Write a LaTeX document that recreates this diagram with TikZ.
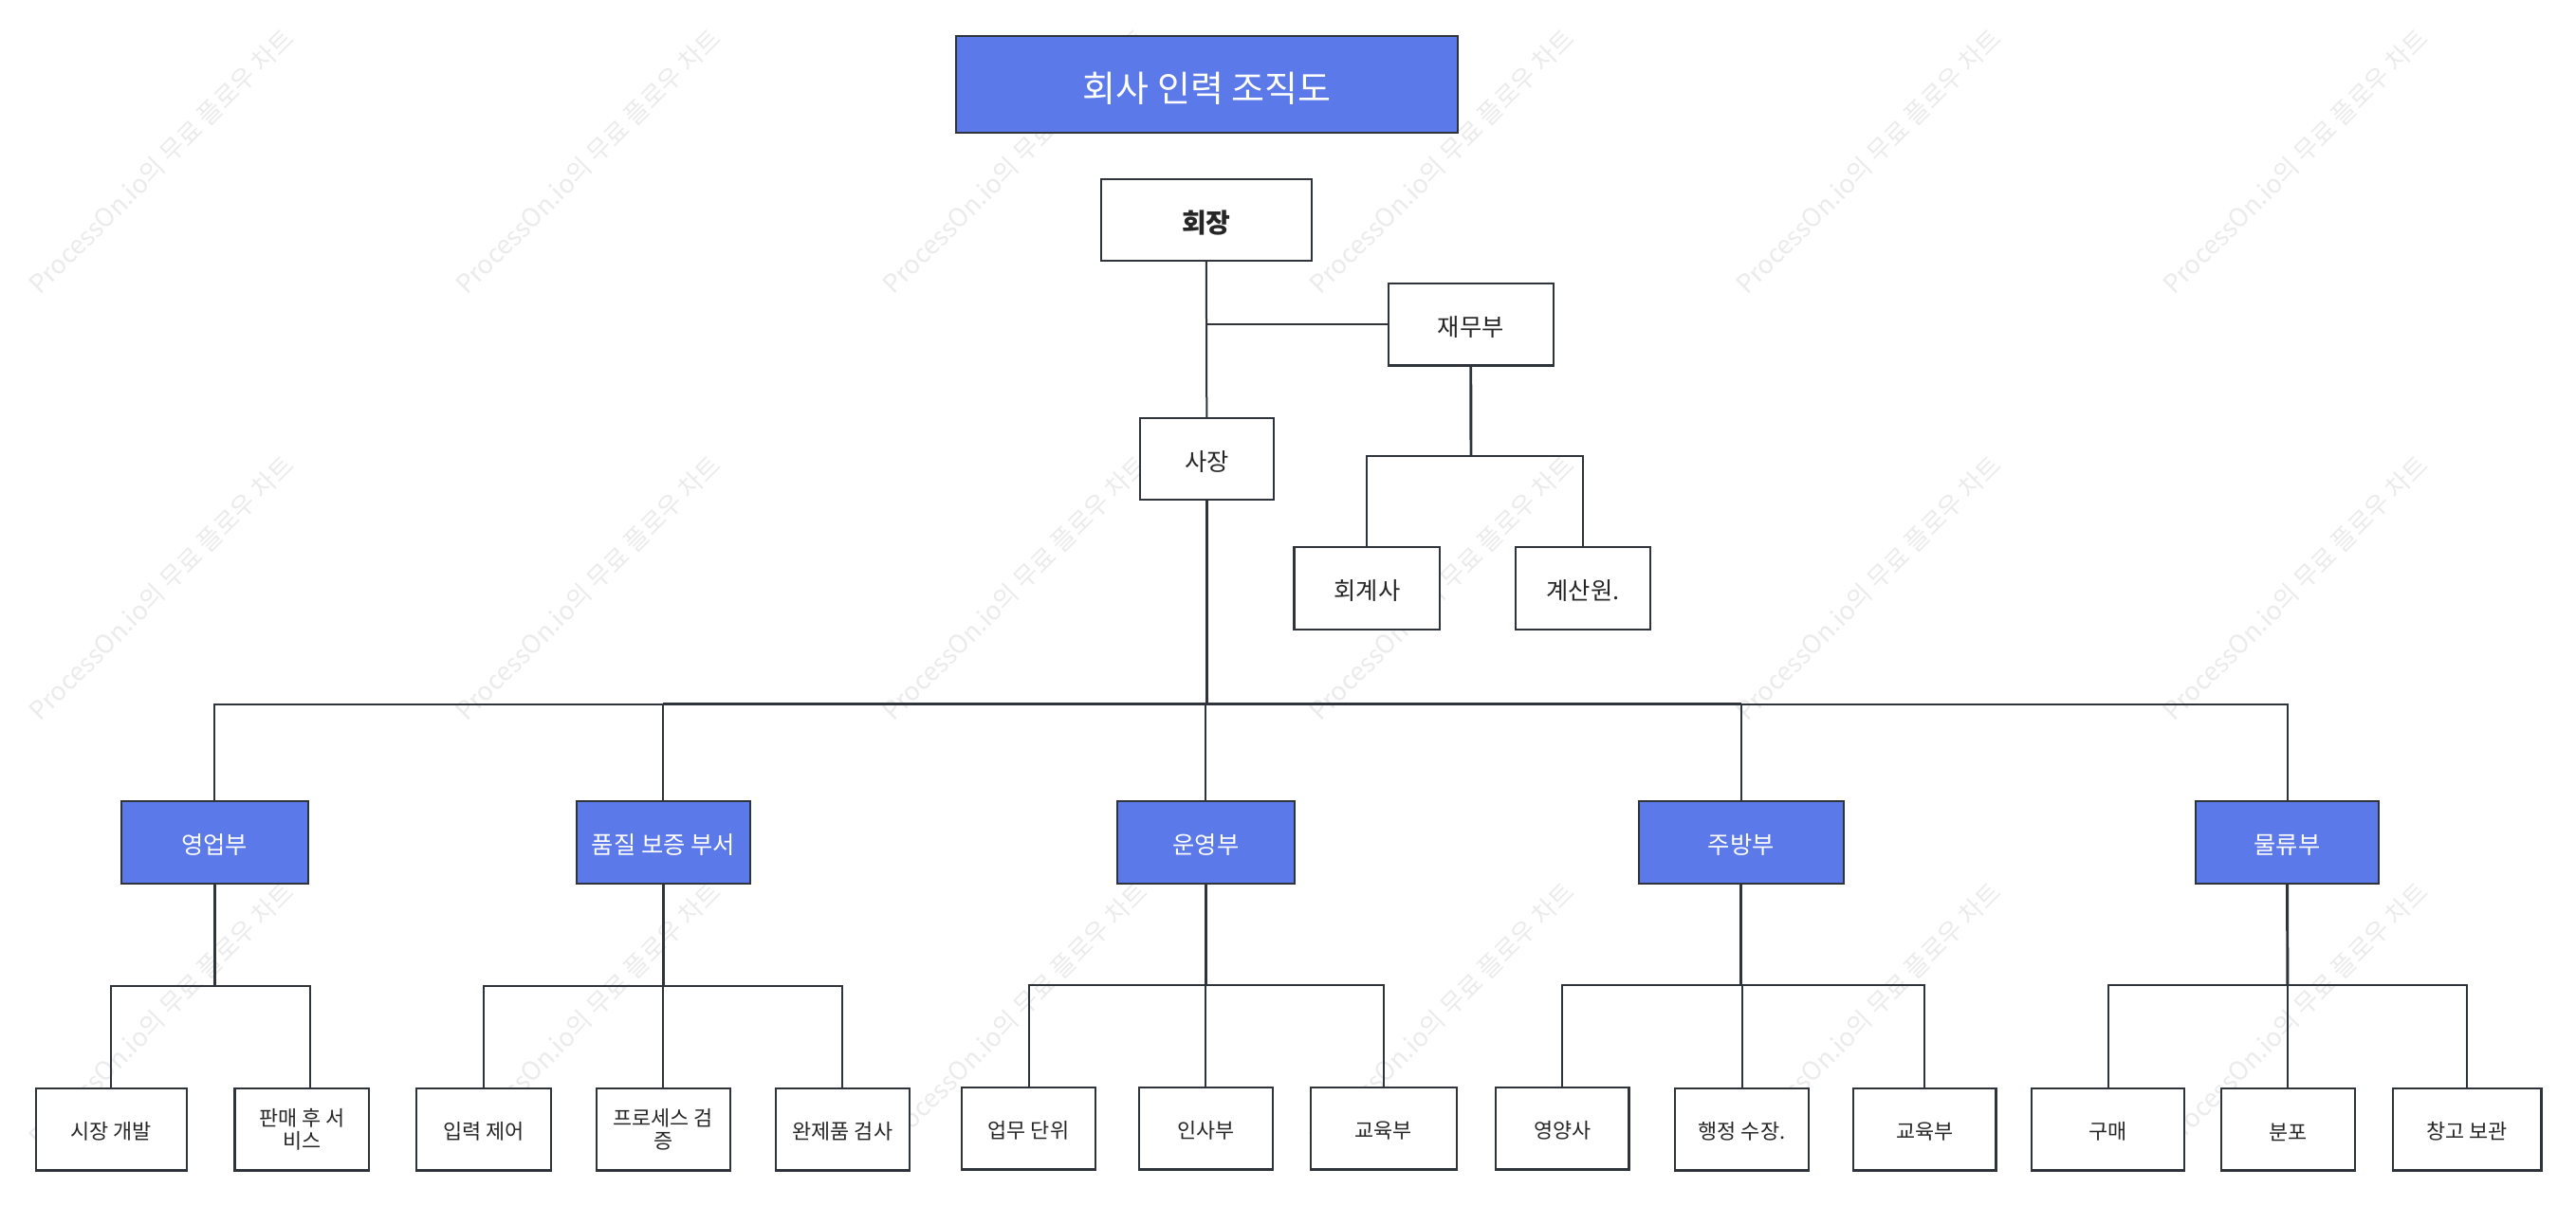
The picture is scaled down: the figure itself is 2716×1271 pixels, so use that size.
\documentclass[tikz,border=0pt]{standalone}
\usepackage{fontspec}
\usepackage{xcolor}
\setmainfont{Noto Sans CJK KR}
\definecolor{deptblue}{HTML}{5B79E9}
\definecolor{edge}{HTML}{2F343B}
\definecolor{marktext}{HTML}{EBEBEB}
\tikzset{
  basebox/.style={draw=edge,line width=1.65pt,outer sep=0pt,inner sep=0pt,align=center,
    execute at begin node={\rule{0pt}{1.04em}}},
  headbox/.style={basebox,fill=white,text=black!85,font=\fontsize{19}{23}\selectfont},
  deptbox/.style={basebox,fill=deptblue,text=white,font=\fontsize{19}{23}\selectfont},
  leafbox/.style={basebox,fill=white,text=black!85,font=\fontsize{16.4}{17.5}\selectfont},
  link/.style={draw=edge,line width=1.5pt},
  linkm/.style={draw=edge,line width=1.75pt},
  linkb/.style={draw=edge,line width=2.2pt},
  markword/.style={text=marktext,rotate=45,font=\fontsize{20.2}{24}\selectfont}
}

\begin{document}
\begin{tikzpicture}[x=0.75pt,y=-0.75pt]
\useasboundingbox (0,0) rectangle (2716,1271);
% Watermarks
\foreach \x in {170,620,1070,1520,1970,2420}
  \foreach \y in {170,620,1070}
    \node[markword] (mark\x-\y) at (\x,\y) {ProcessOn.io의 무료 플로우 차트};
% Title and top boxes
\node[deptbox,minimum width=396.75pt,minimum height=76.5pt,font=\fontsize{28.5}{34}\selectfont] (title) at (1272.5,89) {회사 인력 조직도};
\node[headbox,minimum width=166.5pt,minimum height=64.5pt,font=\fontsize{21}{25}\bfseries] (chair) at (1271.8,232) {회장};
\foreach \name/\x/\y/\w/\txt in
  {finance/1550.7/342.3/174/재무부, president/1272.3/484/140.7/사장,
   accountant/1441.4/620.4/153.8/회계사, cashier/1669/620.4/142/계산원.}
  \node[headbox,minimum width=\w*0.75pt,minimum height=64.8pt] (\name) at (\x,\y) {\txt};
% Departments
\foreach \name/\x/\w/\txt in
  {sales/226.1/197/영업부, quality/699.3/183/품질 보증 부서, ops/1271.4/186.8/운영부,
   kitchen/1835.8/216.2/주방부, logistics/2411.5/193.5/물류부}
  \node[deptbox,minimum width=\w*0.75pt,minimum height=65pt] (\name) at (\x,888.4) {\txt};
% Leaf boxes
\foreach \name/\x/\y/\w/\txt in
  {market/117.3/1191.3/159.4/시장 개발, service/318.2/1191.3/141.6/{판매 후 서\\비스},
   input/509.9/1191.3/142/입력 제어, process/699.3/1191.3/141/{프로세스 검\\증},
   finished/888.4/1191.3/141.6/완제품 검사, unit/1084.5/1190.3/141/업무 단위,
   hr/1271.4/1190.3/141/인사부, training/1458.8/1190.3/153.7/교육부,
   dietitian/1647.4/1190.3/140.3/영양사, chef/1836.5/1191.3/141/행정 수장.,
   trainingb/2029.2/1191.3/150.5/교육부, purchase/2222.7/1191.3/161.3/구매,
   distribution/2412.3/1191.3/141/분포, storage/2601.2/1191.3/156.6/창고 보관}
  \node[leafbox,minimum width=\w*0.75pt,minimum height=64.8pt] (\name) at (\x,\y) {\txt};
% Junctions
\coordinate (busfin) at (1551,481);
\coordinate (busmain) at (1272.3,742.6);
\coordinate (bussales) at (226.1,1039.8);
\coordinate (busquality) at (699.3,1039.8);
\coordinate (busops) at (1271.4,1039);
\coordinate (buskitchen) at (1835.8,1039);
\coordinate (buslogistics) at (2411.9,1039);
\coordinate (servicetop) at (326.5,1147.6);
% Upper links
\draw[link] (chair.south) -- (president.north);
\draw[link] (finance.west) -- (finance.west -| chair.south);
\draw[linkb] (finance.south) -- (busfin);
\draw[linkm] (accountant.north |- busfin) -- (cashier.north |- busfin);
\draw[link] (busfin) -| (accountant.north);
\draw[link] (busfin) -| (cashier.north);
\draw[linkb] (president.south) -- (busmain);
% Main bus
\foreach \dept in {sales,quality,ops,kitchen,logistics}
  \draw[link] (busmain) -| (\dept.north);
\draw[linkb] (quality.north |- busmain) -- (kitchen.north |- busmain);
% Department links
\foreach \dept/\first/\last in
  {sales/market.north/servicetop, quality/input.north/finished.north, ops/unit.north/training.north,
   kitchen/dietitian.north/trainingb.north, logistics/purchase.north/storage.north}
{
  \draw[linkb] (\dept.south) -- (bus\dept);
  \draw[linkm] (\first |- bus\dept) -- (\last |- bus\dept);
}
\foreach \dept/\kid in
  {sales/market.north, sales/servicetop, quality/input.north, quality/process.north, quality/finished.north,
   ops/unit.north, ops/hr.north, ops/training.north, kitchen/dietitian.north, kitchen/chef.north,
   kitchen/trainingb.north, logistics/purchase.north, logistics/distribution.north, logistics/storage.north}
  \draw[link] (bus\dept) -| (\kid);
\end{tikzpicture}
\end{document}
